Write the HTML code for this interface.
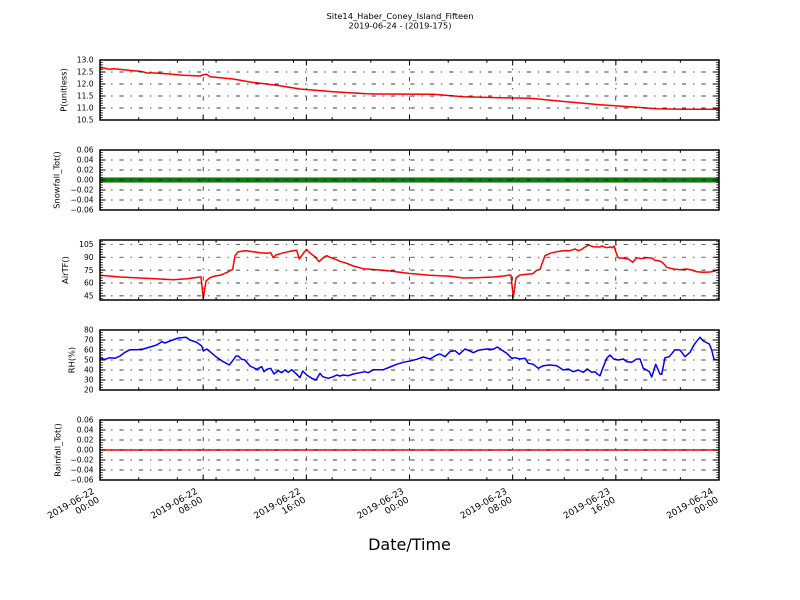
<!DOCTYPE html>
<html>
<head>
<meta charset="utf-8">
<style>
  html, body { margin: 0; padding: 0; background: #ffffff; }
  svg { display: block; }
  text { font-family: "DejaVu Sans", "Liberation Sans", sans-serif; fill: #000; }
  .yt { font-size: 7.5px; text-anchor: end; }
  .yl { font-size: 8.3px; text-anchor: middle; }
  .xt { font-size: 9px; text-anchor: end; }
  .grid { stroke: #000; stroke-width: 0.7; stroke-dasharray: 4.2 6.9 1.4 6.9; fill: none; }
  .tk { stroke: #000; stroke-width: 1; fill: none; }
</style>
</head>
<body>
<svg width="800" height="600" viewBox="0 0 800 600" xmlns="http://www.w3.org/2000/svg">
  <rect x="0" y="0" width="800" height="600" fill="#ffffff"/>
  <defs>
    <g id="xframe">
      <!-- vertical grid -->
      <line class="grid" x1="203.2" y1="60" x2="203.2" y2="0"/>
      <line class="grid" x1="306.3" y1="60" x2="306.3" y2="0"/>
      <line class="grid" x1="409.5" y1="60" x2="409.5" y2="0"/>
      <line class="grid" x1="512.7" y1="60" x2="512.7" y2="0"/>
      <line class="grid" x1="615.8" y1="60" x2="615.8" y2="0"/>
      <!-- x major ticks bottom/top -->
      <line x1="100" y1="57.25" x2="719" y2="57.25" stroke="#000" stroke-width="5.5" stroke-dasharray="1 102.17" stroke-dashoffset="0.5"/>
      <line x1="100" y1="2.75" x2="719" y2="2.75" stroke="#000" stroke-width="5.5" stroke-dasharray="1 102.17" stroke-dashoffset="0.5"/>
      <!-- x minor ticks bottom/top -->
      <line x1="100" y1="58.6" x2="719" y2="58.6" stroke="#000" stroke-width="2.8" stroke-dasharray="1 37.69" stroke-dashoffset="0.5"/>
      <line x1="100" y1="1.4" x2="719" y2="1.4" stroke="#000" stroke-width="2.8" stroke-dasharray="1 37.69" stroke-dashoffset="0.5"/>
    </g>
  </defs>

  <!-- Title -->
  <text x="400" y="19" style="font-size:8.3px;text-anchor:middle">Site14_Haber_Coney_Island_Fifteen</text>
  <text x="400" y="28.5" style="font-size:8.3px;text-anchor:middle">2019-06-24 - (2019-175)</text>

  <!-- ============ Panel 1: P(unitless) ============ -->
  <polyline fill="none" stroke="#ff0000" stroke-width="1.5" stroke-linejoin="round" points="100,67.7 105,68.3 110,69.3 113.3,68.7 116.7,69 123.3,69.7 133.3,70.7 140,71.3 145,72.3 148.3,73.3 150,72.7 166.7,73.7 183.3,75.3 200,76 203.3,74.7 206.7,74.3 210,76.7 233.3,79 250,82 276.7,85.3 300,89 333.3,91.7 366.7,93.7 376.7,94 433.3,94.3 463.3,96.7 500,97.7 530,98.3 566.7,101.7 600,104.7 633.3,107 656.7,108.7 683.3,109.3 719,109.3"/>
  <line class="grid" x1="100" y1="72" x2="719" y2="72"/>
  <line class="grid" x1="100" y1="84" x2="719" y2="84"/>
  <line class="grid" x1="100" y1="96" x2="719" y2="96"/>
  <line class="grid" x1="100" y1="108" x2="719" y2="108"/>
  <use href="#xframe" x="0" y="60"/>
  <line x1="101.4" y1="60" x2="101.4" y2="120" stroke="#000" stroke-width="2.8" stroke-dasharray="0.8 1.6" stroke-dashoffset="0.4"/>
  <line x1="717.6" y1="60" x2="717.6" y2="120" stroke="#000" stroke-width="2.8" stroke-dasharray="0.8 1.6" stroke-dashoffset="0.4"/>
  <path class="tk" d="M100 72h5.5M100 84h5.5M100 96h5.5M100 108h5.5M713.5 72h5.5M713.5 84h5.5M713.5 96h5.5M713.5 108h5.5"/>
  <rect x="100" y="60" width="619" height="60" fill="none" stroke="#000" stroke-width="1.5"/>
  <text class="yt" x="93.5" y="62.7">13.0</text>
  <text class="yt" x="93.5" y="74.7">12.5</text>
  <text class="yt" x="93.5" y="86.7">12.0</text>
  <text class="yt" x="93.5" y="98.7">11.5</text>
  <text class="yt" x="93.5" y="110.7">11.0</text>
  <text class="yt" x="93.5" y="122.7">10.5</text>
  <text class="yl" transform="translate(66.3,90) rotate(-90)">P(unitless)</text>

  <!-- ============ Panel 2: Snowfall_Tot() ============ -->
  <rect x="100" y="177.5" width="619" height="5" fill="#0a800a"/>
  <line x1="100" y1="177.8" x2="719" y2="177.8" stroke="#005a00" stroke-width="0.6"/>
  <line x1="100" y1="182.2" x2="719" y2="182.2" stroke="#005a00" stroke-width="0.6"/>
  <line class="grid" x1="100" y1="160" x2="719" y2="160"/>
  <line class="grid" x1="100" y1="170" x2="719" y2="170"/>
  <line class="grid" x1="100" y1="180" x2="719" y2="180"/>
  <line class="grid" x1="100" y1="190" x2="719" y2="190"/>
  <line class="grid" x1="100" y1="200" x2="719" y2="200"/>
  <use href="#xframe" x="0" y="150"/>
  <line x1="101.4" y1="150" x2="101.4" y2="210" stroke="#000" stroke-width="2.8" stroke-dasharray="0.8 1.7" stroke-dashoffset="0.4"/>
  <line x1="717.6" y1="150" x2="717.6" y2="210" stroke="#000" stroke-width="2.8" stroke-dasharray="0.8 1.7" stroke-dashoffset="0.4"/>
  <path class="tk" d="M100 160h5.5M100 170h5.5M100 180h5.5M100 190h5.5M100 200h5.5M713.5 160h5.5M713.5 170h5.5M713.5 180h5.5M713.5 190h5.5M713.5 200h5.5"/>
  <rect x="100" y="150" width="619" height="60" fill="none" stroke="#000" stroke-width="1.5"/>
  <text class="yt" x="93.5" y="152.7">0.06</text>
  <text class="yt" x="93.5" y="162.7">0.04</text>
  <text class="yt" x="93.5" y="172.7">0.02</text>
  <text class="yt" x="93.5" y="182.7">0.00</text>
  <text class="yt" x="93.5" y="192.7">−0.02</text>
  <text class="yt" x="93.5" y="202.7">−0.04</text>
  <text class="yt" x="93.5" y="212.7">−0.06</text>
  <text class="yl" transform="translate(59.7,180) rotate(-90)">Snowfall_Tot()</text>

  <!-- ============ Panel 3: AirTF() ============ -->
  <polyline fill="none" stroke="#ff0000" stroke-width="1.5" stroke-linejoin="round" points="100,275.3 120,277 140,278 160,279 173.3,279.7 186.7,278.7 200,277 201,277 203.3,298.3 206,281 210,277.7 215,276 220,275.3 223.3,274 228.3,271.7 232.7,269.3 235,255.7 238.3,251.7 245,250.7 253.3,251.7 260,252.7 266.7,253.3 270.7,252.7 273.3,257.7 276,255 281.7,253.3 290,251.3 296.7,250.3 299.3,259 302.7,254.3 304,252.3 306.7,249.7 310,253 315,256.7 319,261.7 323.3,257.7 326.7,255.7 330,257.3 336.7,259.7 340,261.3 346.7,263.3 353.3,266 363.3,268.7 376.7,269.7 390,271 410,273.5 430,275.3 450,276.3 463.3,278 476.7,277.7 493.3,277 503.3,276 510,275 511,275.3 513.3,297.7 516,277.7 520,275 526.7,274.3 532.7,273.7 536.7,270.3 540,269.3 542.7,261.7 545,255.7 550,253.3 556.7,251.7 563.3,250.7 570,250.7 575,249 578.3,250.7 581.7,249.3 588.3,245 593.3,246.7 600,247 601.7,246 606.7,247.7 610,247 612.3,247.7 614,246 616.7,254.3 618.3,257.7 623.3,258.3 628.3,259 632.7,262.3 636.7,257.7 641.7,258.7 646.7,257.7 651.7,258 655,260.3 660,261 663.3,263.3 666.7,267.3 673.3,269 680,269.7 686.7,269 691.7,270 696.7,271.7 703.3,272.3 710,272 715,271 719,269.3"/>
  <line class="grid" x1="100" y1="244.3" x2="719" y2="244.3"/>
  <line class="grid" x1="100" y1="257.2" x2="719" y2="257.2"/>
  <line class="grid" x1="100" y1="270.1" x2="719" y2="270.1"/>
  <line class="grid" x1="100" y1="283" x2="719" y2="283"/>
  <line class="grid" x1="100" y1="295.9" x2="719" y2="295.9"/>
  <use href="#xframe" x="0" y="240"/>
  <line x1="101.4" y1="240" x2="101.4" y2="300" stroke="#000" stroke-width="2.8" stroke-dasharray="0.8 1.78" stroke-dashoffset="1.26"/>
  <line x1="717.6" y1="240" x2="717.6" y2="300" stroke="#000" stroke-width="2.8" stroke-dasharray="0.8 1.78" stroke-dashoffset="1.26"/>
  <path class="tk" d="M100 244.3h5.5M100 257.2h5.5M100 270.1h5.5M100 283h5.5M100 295.9h5.5M713.5 244.3h5.5M713.5 257.2h5.5M713.5 270.1h5.5M713.5 283h5.5M713.5 295.9h5.5"/>
  <rect x="100" y="240" width="619" height="60" fill="none" stroke="#000" stroke-width="1.5"/>
  <text class="yt" x="93.5" y="247">105</text>
  <text class="yt" x="93.5" y="259.9">90</text>
  <text class="yt" x="93.5" y="272.8">75</text>
  <text class="yt" x="93.5" y="285.7">60</text>
  <text class="yt" x="93.5" y="298.6">45</text>
  <text class="yl" transform="translate(68,270) rotate(-90)">AirTF()</text>

  <!-- ============ Panel 4: RH(%) ============ -->
  <polyline fill="none" stroke="#0000ff" stroke-width="1.5" stroke-linejoin="round" points="100,358.3 105,359.3 110,357.7 115,358.3 120,356 125,352.3 130,349.7 136.7,349.7 143.3,349 150,347 156.7,345 161.7,341.7 165,343 170,341 178.3,338 186,337.3 190,340 196.7,342.3 201.7,346 203.3,351 206.7,349 210,351.7 216.7,357.3 223.3,361.7 229.3,365 232.7,360.7 236,356 238.3,356 241.7,359.3 245,360 250,366 256.7,369.3 261.7,366.7 264,371.7 266.7,369.3 270.7,368.3 274,374 278.3,370.7 281.7,372.7 285,370 288.3,372.3 291.7,369.7 296.7,374.3 300,377.7 302.7,371 306.7,375 311.7,378.3 316,380 320,373.3 322.7,376.7 328.3,378.3 333.3,376.7 336.7,375 340,376 343.3,375 348.3,375.7 353.3,374 360,372.7 365,371.7 368.3,372.7 373.3,369.7 383.3,369.7 390,367 396.7,364.3 403.3,362.3 410,361 416.7,359.3 423.3,357 430,359 436.7,355 440,354 445,356.7 450,351.7 455,350.7 459.3,354.3 465,349 470,351 473.3,352.7 478.3,350.3 486.7,349 493.3,349.3 497.3,347 501.7,350 506.7,353.3 511.7,358.3 515,357.7 520,359 525,358.3 528.3,363.3 533.3,364.3 538.3,368.3 543.3,365.7 550,365 556.7,365.7 563.3,370 568.3,369 573.3,371.7 578.3,370 583.3,372.3 587.3,369 591.7,372.3 595,371.7 597.3,374 600,375.7 602.7,368.3 606.7,358.3 610,355 614,359.3 618.3,360 623.3,359 626.7,361.7 631.7,362.3 636.7,359 640,359 643.3,368.3 646.7,370 649.3,371.7 651.7,377 655.7,364.3 660,374 661.7,374.3 665,357.7 669.3,356.7 675,349.7 680,350 685,356.7 690,352.3 695,343.3 700,337.3 703.3,341 709.3,344 711.7,350 714,359.3 717.3,360 719,360"/>
  <line class="grid" x1="100" y1="340" x2="719" y2="340"/>
  <line class="grid" x1="100" y1="350" x2="719" y2="350"/>
  <line class="grid" x1="100" y1="360" x2="719" y2="360"/>
  <line class="grid" x1="100" y1="370" x2="719" y2="370"/>
  <line class="grid" x1="100" y1="380" x2="719" y2="380"/>
  <use href="#xframe" x="0" y="330"/>
  <line x1="101.4" y1="330" x2="101.4" y2="390" stroke="#000" stroke-width="2.8" stroke-dasharray="0.8 1.7" stroke-dashoffset="0.4"/>
  <line x1="717.6" y1="330" x2="717.6" y2="390" stroke="#000" stroke-width="2.8" stroke-dasharray="0.8 1.7" stroke-dashoffset="0.4"/>
  <path class="tk" d="M100 340h5.5M100 350h5.5M100 360h5.5M100 370h5.5M100 380h5.5M713.5 340h5.5M713.5 350h5.5M713.5 360h5.5M713.5 370h5.5M713.5 380h5.5"/>
  <rect x="100" y="330" width="619" height="60" fill="none" stroke="#000" stroke-width="1.5"/>
  <text class="yt" x="93.5" y="332.7">80</text>
  <text class="yt" x="93.5" y="342.7">70</text>
  <text class="yt" x="93.5" y="352.7">60</text>
  <text class="yt" x="93.5" y="362.7">50</text>
  <text class="yt" x="93.5" y="372.7">40</text>
  <text class="yt" x="93.5" y="382.7">30</text>
  <text class="yt" x="93.5" y="392.7">20</text>
  <text class="yl" transform="translate(74.5,360) rotate(-90)">RH(%)</text>

  <!-- ============ Panel 5: Rainfall_Tot() ============ -->
  <line x1="100" y1="450" x2="719" y2="450" stroke="#ff0000" stroke-width="1.5"/>
  <line class="grid" x1="100" y1="430" x2="719" y2="430"/>
  <line class="grid" x1="100" y1="440" x2="719" y2="440"/>
  <line class="grid" x1="100" y1="450" x2="719" y2="450"/>
  <line class="grid" x1="100" y1="460" x2="719" y2="460"/>
  <line class="grid" x1="100" y1="470" x2="719" y2="470"/>
  <use href="#xframe" x="0" y="420"/>
  <line x1="101.4" y1="420" x2="101.4" y2="480" stroke="#000" stroke-width="2.8" stroke-dasharray="0.8 1.7" stroke-dashoffset="0.4"/>
  <line x1="717.6" y1="420" x2="717.6" y2="480" stroke="#000" stroke-width="2.8" stroke-dasharray="0.8 1.7" stroke-dashoffset="0.4"/>
  <path class="tk" d="M100 430h5.5M100 440h5.5M100 450h5.5M100 460h5.5M100 470h5.5M713.5 430h5.5M713.5 440h5.5M713.5 450h5.5M713.5 460h5.5M713.5 470h5.5"/>
  <rect x="100" y="420" width="619" height="60" fill="none" stroke="#000" stroke-width="1.5"/>
  <text class="yt" x="93.5" y="422.7">0.06</text>
  <text class="yt" x="93.5" y="432.7">0.04</text>
  <text class="yt" x="93.5" y="442.7">0.02</text>
  <text class="yt" x="93.5" y="452.7">0.00</text>
  <text class="yt" x="93.5" y="462.7">−0.02</text>
  <text class="yt" x="93.5" y="472.7">−0.04</text>
  <text class="yt" x="93.5" y="482.7">−0.06</text>
  <text class="yl" transform="translate(60.3,450) rotate(-90)">Rainfall_Tot()</text>

  <!-- ============ X tick labels ============ -->
  <g class="xt" transform="translate(100,501.5) rotate(-30)">
    <text class="xt" x="0" y="-10">2019-06-22</text>
    <text class="xt" x="0" y="0">00:00</text>
  </g>
  <g transform="translate(203.2,501.5) rotate(-30)">
    <text class="xt" x="0" y="-10">2019-06-22</text>
    <text class="xt" x="0" y="0">08:00</text>
  </g>
  <g transform="translate(306.3,501.5) rotate(-30)">
    <text class="xt" x="0" y="-10">2019-06-22</text>
    <text class="xt" x="0" y="0">16:00</text>
  </g>
  <g transform="translate(409.5,501.5) rotate(-30)">
    <text class="xt" x="0" y="-10">2019-06-23</text>
    <text class="xt" x="0" y="0">00:00</text>
  </g>
  <g transform="translate(512.7,501.5) rotate(-30)">
    <text class="xt" x="0" y="-10">2019-06-23</text>
    <text class="xt" x="0" y="0">08:00</text>
  </g>
  <g transform="translate(615.8,501.5) rotate(-30)">
    <text class="xt" x="0" y="-10">2019-06-23</text>
    <text class="xt" x="0" y="0">16:00</text>
  </g>
  <g transform="translate(719,501.5) rotate(-30)">
    <text class="xt" x="0" y="-10">2019-06-24</text>
    <text class="xt" x="0" y="0">00:00</text>
  </g>

  <!-- X axis label -->
  <text x="409.5" y="550" style="font-size:16px;text-anchor:middle">Date/Time</text>
</svg>
</body>
</html>
